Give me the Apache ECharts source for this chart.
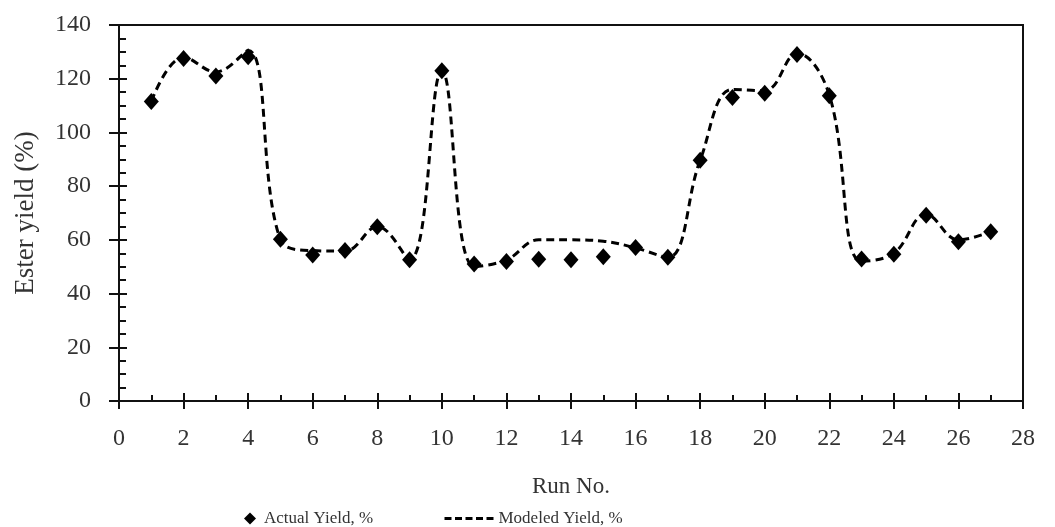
<!DOCTYPE html>
<html>
<head>
<meta charset="utf-8">
<script src="https://cdn.jsdelivr.net/npm/echarts@6/dist/echarts.min.js"></script>
<style>html,body{margin:0;padding:0;background:#fff}#c{width:1055px;height:527px}</style>
</head>
<body>
<div id="c"></div>
<script>
var runs = [1,2,3,4,5,6,7,8,9,10,11,12,13,14,15,16,17,18,19,20,21,22,23,24,25,26,27];
var actualYield = [111.5,127.5,121,128.2,60.2,54.4,56,64.9,52.6,123,51,51.9,52.8,52.6,53.7,57.2,53.5,89.6,113,114.6,129,113.7,52.9,54.6,69.2,59.3,63];
var modeledYield = [111.5,128,122.5,130.5,60,56,55.8,65,52.6,123,50,52.5,60,60,59.5,57,53.5,89.6,116,115.5,129.5,114,52,55,69.5,60,63];
var xTicks = {min:0, max:28, interval:2};
var yTicks = {min:0, max:140, interval:20};

var font = 'Liberation Serif';
var txt = '#333333';
var chart = echarts.init(document.getElementById('c'), null, {renderer:'canvas'});
var pairs = function(ys){ return runs.map(function(r,i){ return [r, ys[i]]; }); };

chart.setOption({
  animation:false,
  backgroundColor:'#fff',
  grid:{left:119, right:32, top:25, bottom:126, show:true, borderColor:'#111', borderWidth:2, backgroundColor:'transparent'},
  legend:[
    {data:['Actual Yield, %'], left:239, top:505, itemWidth:12, itemHeight:12,
     itemStyle:{opacity:1},
     textStyle:{fontFamily:font, fontSize:17, color:txt, padding:[0,0,0,3]}},
    {data:['Modeled Yield, %'], left:438, top:505, itemWidth:52, itemHeight:12,
     itemStyle:{opacity:0},
     lineStyle:{width:3, type:[7,3.5], color:'#000'},
     textStyle:{fontFamily:font, fontSize:17, color:txt, padding:[0,0,0,-3]}}
  ],
  xAxis:[
    {type:'value', min:xTicks.min, max:xTicks.max, interval:xTicks.interval, position:'bottom',
     name:'Run No.', nameLocation:'middle', nameGap:74,
     nameTextStyle:{fontFamily:font, fontSize:23, color:txt},
     axisLine:{show:true, lineStyle:{color:'#111', width:2}},
     axisTick:{show:true, inside:true, length:8, lineStyle:{color:'#111', width:2}},
     minorTick:{show:true, splitNumber:2, length:6, lineStyle:{color:'#111', width:2}},
     axisLabel:{margin:26, fontFamily:font, fontSize:24, color:txt},
     splitLine:{show:false}},
    {type:'value', min:xTicks.min, max:xTicks.max, interval:xTicks.interval, position:'bottom', offset:0,
     axisLine:{show:false},
     axisTick:{show:true, inside:false, length:8, lineStyle:{color:'#111', width:2}},
     axisLabel:{show:false}, splitLine:{show:false}}
  ],
  yAxis:[
    {type:'value', min:yTicks.min, max:yTicks.max, interval:yTicks.interval, position:'left',
     name:'Ester yield (%)', nameLocation:'middle', nameGap:80,
     nameTextStyle:{fontFamily:font, fontSize:27, color:txt},
     axisLine:{show:true, lineStyle:{color:'#111', width:2}},
     axisTick:{show:true, inside:true, length:8, lineStyle:{color:'#111', width:2}},
     minorTick:{show:true, splitNumber:4, length:7, lineStyle:{color:'#111', width:2}},
     axisLabel:{margin:28, fontFamily:font, fontSize:24, color:txt},
     splitLine:{show:false}},
    {type:'value', min:yTicks.min, max:yTicks.max, interval:yTicks.interval, position:'left', offset:0,
     axisLine:{show:false},
     axisTick:{show:true, inside:false, length:10, lineStyle:{color:'#111', width:2}},
     axisLabel:{show:false}, splitLine:{show:false}}
  ],
  series:[
    {name:'Modeled Yield, %', type:'line', xAxisIndex:0, yAxisIndex:0, data:pairs(modeledYield),
     smooth:0.4, showSymbol:false, symbol:'none',
     lineStyle:{color:'#000', width:3, type:[8,5]}, itemStyle:{color:'#000'}, z:2},
    {name:'Actual Yield, %', type:'scatter', xAxisIndex:0, yAxisIndex:0, data:pairs(actualYield),
     symbol:'diamond', symbolSize:[15,17], itemStyle:{color:'#000', opacity:1}, z:3}
  ]
});
</script>
</body>
</html>
